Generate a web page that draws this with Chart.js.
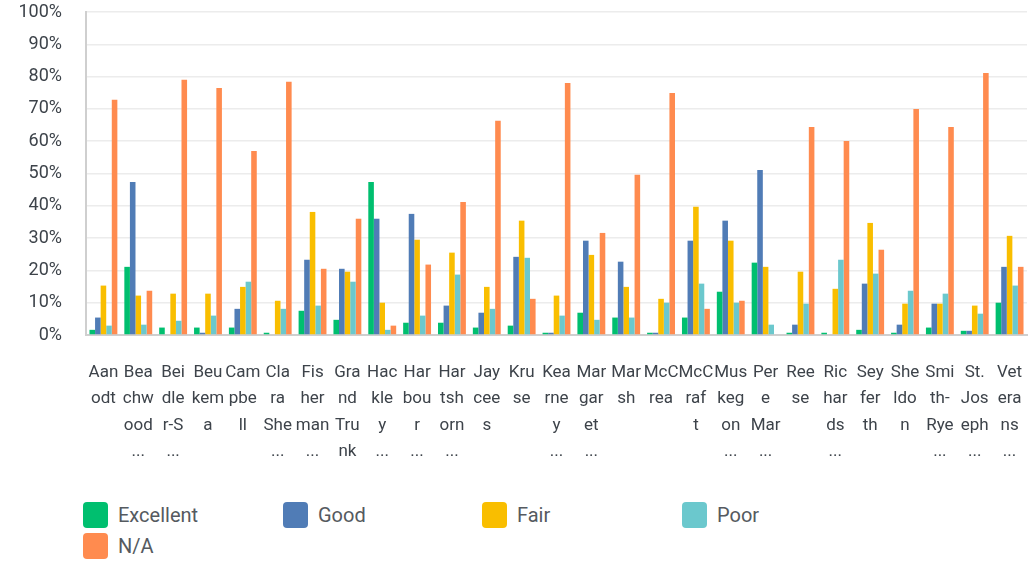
<!DOCTYPE html>
<html>
<head>
<meta charset="utf-8">
<script src="https://cdn.jsdelivr.net/npm/chart.js@4/dist/chart.umd.min.js"></script>
<style>
  html, body { margin: 0; padding: 0; background: #fff; }
  #wrap { position: relative; width: 1030px; height: 562px; overflow: hidden; }
  #chartBox { position: absolute; left: 0; top: 0; width: 1030px; height: 480px; }
  #legend { position: absolute; left: 83px; top: 502px; width: 900px; font-family: Roboto, sans-serif; }
  .item { position: absolute; height: 26px; display: flex; align-items: center; }
  .sw { width: 25px; height: 26px; border-radius: 4px; margin-right: 10px; }
  .lt { font-size: 20px; color: #555a60; white-space: nowrap; }
</style>
</head>
<body>
<div id="wrap">
  <div id="chartBox"><canvas id="c"></canvas></div>
  <div id="legend"></div>
</div>
<script>
const categoryLines = [
  ["Aan","odt"],
  ["Bea","chw","ood","..."],
  ["Bei","dle","r-S","..."],
  ["Beu","kem","a"],
  ["Cam","pbe","ll"],
  ["Cla","ra","She","..."],
  ["Fis","her","man","..."],
  ["Gra","nd","Tru","nk"],
  ["Hac","kle","y","..."],
  ["Har","bou","r","..."],
  ["Har","tsh","orn","..."],
  ["Jay","cee","s"],
  ["Kru","se"],
  ["Kea","rne","y","..."],
  ["Mar","gar","et","..."],
  ["Mar","sh"],
  ["McC","rea"],
  ["McC","raf","t"],
  ["Mus","keg","on","..."],
  ["Per","e","Mar","..."],
  ["Ree","se"],
  ["Ric","har","ds","..."],
  ["Sey","fer","th"],
  ["She","ldo","n"],
  ["Smi","th-","Rye","..."],
  ["St.","Jos","eph","..."],
  ["Vet","era","ns","..."]
];
const seriesNames = ["Excellent", "Good", "Fair", "Poor", "N/A"];
const excellent = [1.6,21.1,2.3,2.3,2.3,0.7,7.5,4.7,47.4,3.8,3.8,2.3,2.9,0.7,6.9,5.4,0.7,5.4,13.4,22.4,0.7,0.7,1.6,0.7,2.3,1.3,10.0];
const good      = [5.4,47.4,0,0.7,8.1,0,23.3,20.5,36.0,37.5,9.1,6.9,24.2,0.7,29.2,22.7,0.7,29.2,35.4,51.1,3.2,0,15.9,3.2,9.7,1.3,21.1];
const fair      = [15.3,12.2,12.8,12.8,14.9,10.6,38.1,19.6,10.0,29.5,25.5,14.9,35.4,12.2,24.8,14.9,11.2,39.7,29.2,21.1,19.6,14.3,34.7,9.7,9.7,9.1,30.7];
const poor      = [2.9,3.2,4.4,6.0,16.5,8.1,9.1,16.5,1.6,6.0,18.7,8.1,23.9,6.0,4.7,5.4,10.0,15.9,10.0,3.2,9.7,23.3,19.0,13.7,12.8,6.6,15.3];
const na        = [72.8,13.7,79.0,76.5,57.0,78.4,20.5,36.0,2.9,21.8,41.2,66.3,11.2,78.0,31.6,49.6,74.9,8.1,10.6,0,64.4,60.1,26.4,70.0,64.4,81.1,21.1];
const yTicks = [0,10,20,30,40,50,60,70,80,90,100];

const colors = ["#00bf6f", "#507cb6", "#f9be00", "#6bc8cd", "#ff8b4f"];
const values = [excellent, good, fair, poor, na];

const datasets = seriesNames.map((n, i) => ({
  label: n,
  data: values[i],
  backgroundColor: colors[i],
  borderWidth: 0,
  barPercentage: 1.0,
  categoryPercentage: 0.8
}));

const textColor = "#3d434a";

new Chart(document.getElementById("c"), {
  type: "bar",
  data: { labels: categoryLines, datasets },
  options: {
    responsive: true,
    maintainAspectRatio: false,
    animation: false,
    layout: { padding: { left: 0, right: 3, top: 12, bottom: 0 } },
    plugins: { legend: { display: false }, tooltip: { enabled: false } },
    scales: {
      x: {
        grid: { display: false, drawTicks: false },
        border: { display: true, color: "#cfcfcf", width: 2 },
        ticks: {
          autoSkip: false, maxRotation: 0, minRotation: 0,
          color: textColor,
          padding: 24,
          font: { family: "Roboto", size: 17, lineHeight: 1.56 }
        },
        afterFit: (s) => { s.height = 480 - 335; s.paddingLeft = 0; s.paddingRight = 0; }
      },
      y: {
        min: 0, max: 100,
        afterBuildTicks: (s) => { s.ticks = yTicks.map(v => ({ value: v })); },
        grid: { color: "#ececec", lineWidth: 1.5, drawTicks: false },
        border: { display: true, color: "#cfcfcf", width: 2 },
        ticks: {
          color: textColor,
          padding: 24,
          font: { family: "Roboto", size: 18 },
          callback: (v) => v + "%"
        },
        afterFit: (s) => { s.width = 86; s.paddingTop = 0; s.paddingBottom = 0; }
      }
    }
  }
});

// legend
const legend = document.getElementById("legend");
const pos = [[0,0],[200,0],[399,0],[599,0],[0,31]];
seriesNames.forEach((n, i) => {
  const it = document.createElement("div");
  it.className = "item";
  it.style.left = pos[i][0] + "px";
  it.style.top = pos[i][1] + "px";
  const sw = document.createElement("div");
  sw.className = "sw";
  sw.style.background = colors[i];
  const t = document.createElement("span");
  t.className = "lt";
  t.textContent = n;
  it.appendChild(sw); it.appendChild(t);
  legend.appendChild(it);
});
</script>
</body>
</html>
